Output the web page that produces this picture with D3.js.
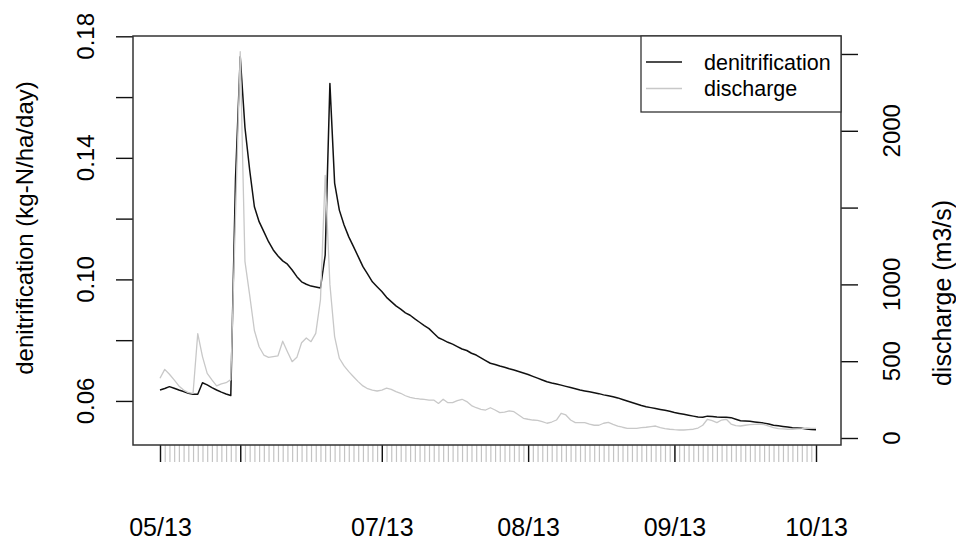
<!DOCTYPE html>
<html><head><meta charset="utf-8">
<script src="https://cdn.jsdelivr.net/npm/d3@7"></script>
<style>body{margin:0;background:#fff}text{font-family:"Liberation Sans",Arial,sans-serif;fill:#000}</style>
</head><body><svg id="c" width="956" height="540"></svg>
<script>
// ---- data ----
const startDate = "2013-05-15";
const denitrification = [
0.0636,0.0641,0.0647,0.0642,0.0636,0.0631,0.0625,0.0622,0.0622,0.0660,
0.0653,0.0644,0.0636,0.0629,0.0623,0.0618,0.1330,0.1733,0.1500,0.1360,
0.1239,0.1190,0.1157,0.1124,0.1097,0.1077,0.1061,0.1050,0.1031,0.1009,
0.0992,0.0984,0.0978,0.0975,0.0972,0.1080,0.1645,0.1317,0.1228,0.1179,
0.1140,0.1108,0.1075,0.1042,0.1017,0.0992,0.0976,0.0960,0.0941,0.0927,
0.0913,0.0902,0.0890,0.0882,0.0870,0.0859,0.0848,0.0838,0.0823,0.0808,
0.0801,0.0793,0.0787,0.0779,0.0771,0.0766,0.0757,0.0751,0.0742,0.0733,
0.0724,0.0720,0.0715,0.0711,0.0706,0.0702,0.0697,0.0692,0.0687,0.0681,
0.0675,0.0669,0.0663,0.0659,0.0656,0.0652,0.0648,0.0644,0.0640,0.0636,
0.0633,0.0630,0.0627,0.0624,0.0620,0.0617,0.0614,0.0610,0.0605,0.0600,
0.0595,0.0590,0.0585,0.0581,0.0578,0.0575,0.0572,0.0569,0.0566,0.0562,
0.0559,0.0556,0.0553,0.0550,0.0547,0.0546,0.0550,0.0549,0.0547,0.0546,
0.0546,0.0545,0.0540,0.0535,0.0534,0.0533,0.0531,0.0529,0.0527,0.0524,
0.0520,0.0518,0.0516,0.0514,0.0512,0.0511,0.0510,0.0508,0.0506,0.0505];
const discharge = [
389,447,415,378,339,312,295,290,680,530,
421,378,339,352,360,380,1450,2515,1150,930,
700,594,540,525,530,535,630,562,497,525,
620,651,627,681,900,1710,1000,660,519,469,
432,399,367,339,321,312,306,312,324,317,
302,291,275,265,258,254,252,247,247,225,
252,230,230,243,252,237,211,197,187,182,
197,182,165,169,176,171,150,128,122,117,
115,106,96,104,117,161,150,117,100,100,
100,91,83,83,96,102,89,78,70,63,
63,63,67,70,74,78,67,61,57,54,
52,52,55,57,65,83,122,113,100,117,
122,91,80,78,83,87,89,91,87,78,
67,61,59,57,57,59,61,65,63,63];
const leftTicks = [0.06,0.08,0.10,0.12,0.14,0.16,0.18];
const leftTickLabels = ["0.06","","0.10","","0.14","","0.18"];
const rightTicks = [0,500,1000,1500,2000,2500];
const rightTickLabels = ["0","500","1000","","2000",""];
const monthTicks = ["2013-05-15","2013-06-01","2013-07-01","2013-08-01","2013-09-01","2013-10-01"];
const monthTickLabels = ["05/13","","07/13","08/13","09/13","10/13"];
const seriesNames = ["denitrification","discharge"];
const leftTitle = "denitrification (kg-N/ha/day)";
const rightTitle = "discharge (m3/s)";

// ---- layout ----
const svg = d3.select("#c");
const box = {l:133, r:841, t:36, b:445};
const parse = d3.utcParse("%Y-%m-%d");
const t0 = parse(startDate);
const dates = denitrification.map((_, i) => d3.utcDay.offset(t0, i));
const monthDates = monthTicks.map(parse);

const x = d3.scaleUtc().domain([dates[0], dates[dates.length-1]]).range([160, 816]);
const yL = d3.scaleLinear().domain([0.0455, 0.1801]).range([box.b, box.t]);
const yR = d3.scaleLinear().domain([-45.6, 2617]).range([box.b, box.t]);

// x axis: daily minor ticks (gray), monthly ticks (black)
const gx = svg.append("g").attr("transform", `translate(0,${box.b})`);
gx.append("g").call(d3.axisBottom(x).tickValues(dates).tickSize(17).tickSizeOuter(0).tickFormat(""))
  .call(g => { g.select(".domain").remove();
    g.selectAll("line").attr("stroke", "#c4c4c4").attr("stroke-width", 1.2); });
gx.append("g").call(d3.axisBottom(x).tickValues(monthDates).tickSize(17).tickSizeOuter(0)
    .tickFormat((d, i) => monthTickLabels[i]))
  .call(g => { g.select(".domain").remove();
    g.selectAll("line").attr("stroke", "#111").attr("stroke-width", 1.4);
    g.selectAll("text").attr("y", 91).attr("dy", null).attr("fill", "#000")
      .style("font-size", "25px").style("font-family", '"Liberation Sans",Arial,sans-serif'); });

// left axis
const gl = svg.append("g").attr("transform", `translate(${box.l},0)`);
gl.call(d3.axisLeft(yL).tickValues(leftTicks).tickSize(17).tickSizeOuter(0).tickFormat(""))
  .call(g => { g.select(".domain").remove(); g.selectAll("line").attr("stroke", "#111").attr("stroke-width", 1.4); });
svg.append("g").selectAll("text").data(leftTicks.filter((d, i) => leftTickLabels[i]))
  .join("text")
  .attr("transform", d => `translate(86,${yL(d)}) rotate(-90)`)
  .attr("text-anchor", "middle").attr("dy", "0.35em").style("font-size", "24px")
  .text(d => leftTickLabels[leftTicks.indexOf(d)]);

// right axis
const gr = svg.append("g").attr("transform", `translate(${box.r},0)`);
gr.call(d3.axisRight(yR).tickValues(rightTicks).tickSize(17).tickSizeOuter(0).tickFormat(""))
  .call(g => { g.select(".domain").remove(); g.selectAll("line").attr("stroke", "#111").attr("stroke-width", 1.4); });
svg.append("g").selectAll("text").data(rightTicks.filter((d, i) => rightTickLabels[i]))
  .join("text")
  .attr("transform", d => `translate(891.5,${yR(d)}) rotate(-90)`)
  .attr("text-anchor", "middle").attr("dy", "0.35em").style("font-size", "24px")
  .text(d => rightTickLabels[rightTicks.indexOf(d)]);

// axis titles
svg.append("text").attr("transform", "translate(33,228) rotate(-90)")
  .attr("text-anchor", "middle").style("font-size", "24px").text(leftTitle);
svg.append("text").attr("transform", "translate(951,293) rotate(-90)")
  .attr("text-anchor", "middle").style("font-size", "25px").text(rightTitle);

// lines
const lineL = d3.line().x((d, i) => x(dates[i])).y(d => yL(d));
const lineR = d3.line().x((d, i) => x(dates[i])).y(d => yR(d));
svg.append("path").datum(denitrification).attr("d", lineL)
  .attr("fill", "none").attr("stroke", "#111").attr("stroke-width", 1.5).attr("stroke-linejoin", "round");
svg.append("path").datum(discharge).attr("d", lineR)
  .attr("fill", "none").attr("stroke", "#c8c8c8").attr("stroke-width", 1.3).attr("stroke-linejoin", "round");

// plot box
svg.append("rect").attr("x", box.l).attr("y", box.t).attr("width", box.r - box.l).attr("height", box.b - box.t)
  .attr("fill", "none").attr("stroke", "#333").attr("stroke-width", 1.5);

// legend
const lg = svg.append("g");
lg.append("rect").attr("x", 641).attr("y", box.t).attr("width", box.r - 641).attr("height", 76)
  .attr("fill", "#fff").attr("stroke", "#333").attr("stroke-width", 1.3);
const legColors = ["#111", "#c8c8c8"];
seriesNames.forEach((name, i) => {
  const yy = 62 + i * 26.5;
  lg.append("line").attr("x1", 646).attr("x2", 682).attr("y1", yy).attr("y2", yy)
    .attr("stroke", legColors[i]).attr("stroke-width", 1.4);
  lg.append("text").attr("x", 704).attr("y", yy).attr("dy", "0.35em").style("font-size", "21.5px").text(name);
});
</script></body></html>
